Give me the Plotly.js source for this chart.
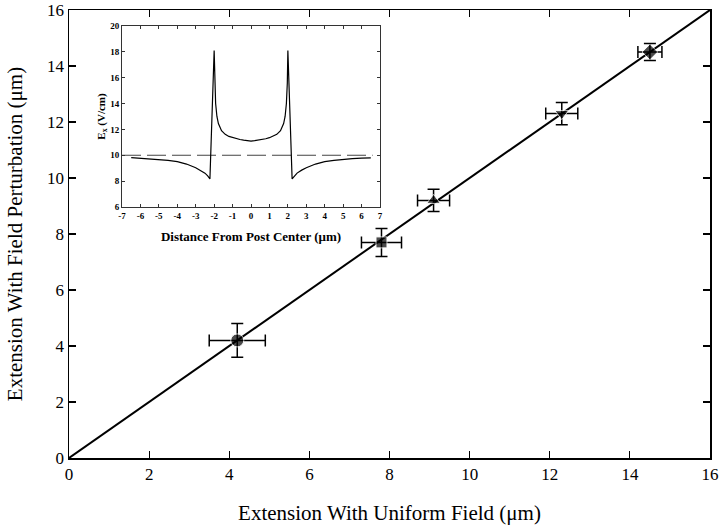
<!DOCTYPE html>
<html>
<head>
<meta charset="utf-8">
<script src="https://cdn.plot.ly/plotly-3.0.1.min.js"></script>
<style>
  html, body { margin: 0; padding: 0; background: #fff; }
  #chart { width: 720px; height: 531px; }
</style>
</head>
<body>
<div id="chart"></div>
<script>
// ---- Main chart data ----
const uniformExt = [4.2, 7.8, 9.1, 12.3, 14.5];
const perturbExt = [4.2, 7.7, 9.2, 12.3, 14.5];
const uniformErr = [0.7, 0.5, 0.4, 0.4, 0.3];
const perturbErr = [0.6, 0.5, 0.4, 0.4, 0.3];
const markerSymbols = ['circle', 'square', 'triangle-up', 'triangle-down', 'diamond'];
const fitX = [0, 16];
const fitY = [0, 16];
const mainTicks = [0, 2, 4, 6, 8, 10, 12, 14, 16];

// ---- Inset data: field E_x vs distance from post center ----
const insetX = [-6.5, -6.0, -5.5, -5.0, -4.5, -4.0, -3.5, -3.0, -2.75, -2.5, -2.35, -2.23,
                -2.0, -1.97, -1.92, -1.85, -1.77, -1.6, -1.4, -1.2, -1.0, -0.8, -0.6, -0.4, -0.2, 0.0,
                0.2, 0.4, 0.6, 0.8, 1.0, 1.2, 1.4, 1.6, 1.77, 1.85, 1.92, 1.97, 2.0,
                2.23, 2.35, 2.5, 2.75, 3.0, 3.5, 4.0, 4.5, 5.0, 5.5, 6.0, 6.5];
const insetE = [9.82, 9.78, 9.74, 9.69, 9.61, 9.51, 9.32, 9.03, 8.85, 8.62, 8.4, 8.17,
                18.1, 15.6, 14.0, 13.0, 12.45, 11.9, 11.62, 11.46, 11.36, 11.28, 11.22, 11.17, 11.13, 11.1,
                11.13, 11.17, 11.22, 11.28, 11.36, 11.46, 11.62, 11.9, 12.45, 13.0, 14.0, 15.6, 18.1,
                8.17, 8.4, 8.62, 8.85, 9.03, 9.32, 9.51, 9.61, 9.69, 9.74, 9.78, 9.8];
const uniformLineX = [-7, 6.6];
const uniformLineE = [10, 10];
const insetXTicks = [-7, -6, -5, -4, -3, -2, -1, 0, 1, 2, 3, 4, 5, 6, 7];
const insetYTicks = [6, 8, 10, 12, 14, 16, 18, 20];

const serif = '"Liberation Serif", "Times New Roman", Times, serif';

const traces = [
  {
    x: fitX, y: fitY, xaxis: 'x', yaxis: 'y',
    mode: 'lines', line: {color: '#000', width: 2},
    hoverinfo: 'skip', showlegend: false, cliponaxis: true
  },
  {
    x: uniformExt, y: perturbExt, xaxis: 'x', yaxis: 'y',
    mode: 'markers',
    marker: {symbol: markerSymbols, size: [13, 11, 12, 12, 12], color: '#000'},
    error_x: {type: 'data', array: uniformErr, visible: true, color: '#000', thickness: 1.5, width: 6},
    error_y: {type: 'data', array: perturbErr, visible: true, color: '#000', thickness: 1.5, width: 6},
    showlegend: false, cliponaxis: false
  },
  {
    x: uniformLineX, y: uniformLineE, xaxis: 'x2', yaxis: 'y2',
    mode: 'lines', line: {color: '#444', width: 1.2, dash: '19px,6px'},
    showlegend: false, hoverinfo: 'skip'
  },
  {
    x: insetX, y: insetE, xaxis: 'x2', yaxis: 'y2',
    mode: 'lines', line: {color: '#000', width: 1.2},
    showlegend: false
  }
];

const layout = {
  width: 720, height: 531,
  margin: {l: 69, r: 10, t: 10, b: 73},
  paper_bgcolor: '#fff', plot_bgcolor: '#fff',
  font: {family: serif, color: '#000'},
  showlegend: false,
  xaxis: {
    domain: [0, 1], range: [0, 16], tickvals: mainTicks, ticktext: mainTicks.map(String),
    ticks: 'inside', ticklen: 7, tickwidth: 1.2, tickcolor: '#000',
    showline: true, linecolor: '#000', linewidth: 1.5, mirror: 'ticks',
    showgrid: false, zeroline: false,
    tickfont: {family: serif, size: 17},
    title: {text: 'Extension With Uniform Field (μm)', font: {family: serif, size: 21}, standoff: 22}
  },
  yaxis: {
    domain: [0, 1], range: [0, 16], tickvals: mainTicks, ticktext: mainTicks.map(String),
    ticks: 'inside', ticklen: 7, tickwidth: 1.2, tickcolor: '#000',
    showline: true, linecolor: '#000', linewidth: 1.5, mirror: 'ticks',
    showgrid: false, zeroline: false,
    tickfont: {family: serif, size: 17},
    title: {text: 'Extension With Field Perturbation (μm)', font: {family: serif, size: 21}, standoff: 18}
  },
  xaxis2: {
    domain: [0.0827, 0.4852], anchor: 'y2', range: [-7, 7],
    tickvals: insetXTicks, ticktext: insetXTicks.map(String),
    ticks: 'inside', ticklen: 3, tickwidth: 1, tickcolor: '#333',
    showline: true, linecolor: '#333', linewidth: 1, mirror: 'ticks',
    showgrid: false, zeroline: false,
    tickfont: {family: serif, size: 9, weight: 'bold'},
    title: {text: '<b>Distance From Post Center (μm)</b>', font: {family: serif, size: 13}, standoff: 12}
  },
  yaxis2: {
    domain: [0.5603, 0.9643], anchor: 'x2', range: [6, 20],
    tickvals: insetYTicks, ticktext: insetYTicks.map(String),
    ticks: 'inside', ticklen: 3, tickwidth: 1, tickcolor: '#333',
    showline: true, linecolor: '#333', linewidth: 1, mirror: 'ticks',
    showgrid: false, zeroline: false,
    tickfont: {family: serif, size: 9, weight: 'bold'},
    title: {text: '<b>E<sub>x</sub> (V/cm)</b>', font: {family: serif, size: 11}, standoff: 2}
  }
};

Plotly.newPlot('chart', traces, layout, {displayModeBar: false, staticPlot: true});
</script>
</body>
</html>
